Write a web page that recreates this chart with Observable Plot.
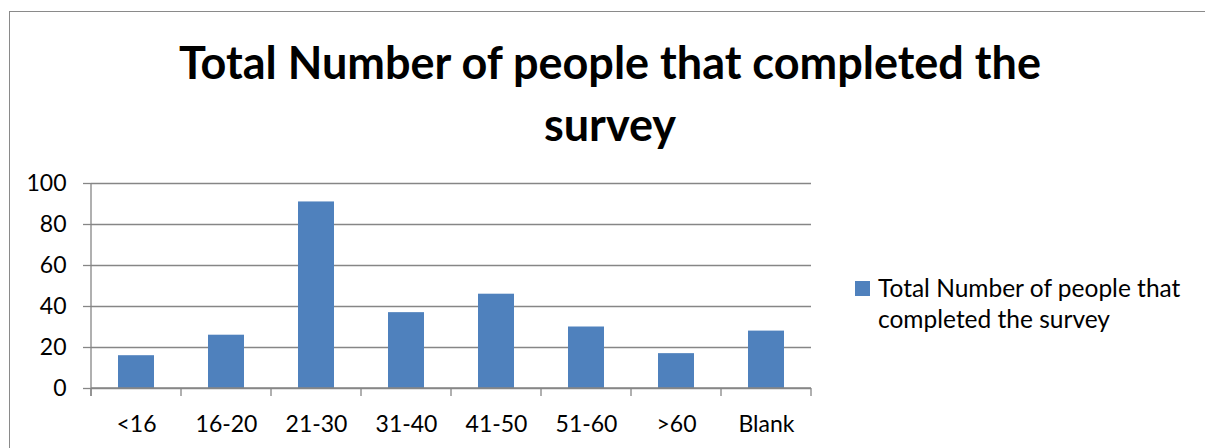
<!DOCTYPE html>
<html>
<head>
<meta charset="utf-8">
<script src="https://cdn.jsdelivr.net/npm/d3@7"></script>
<script src="https://cdn.jsdelivr.net/npm/@observablehq/plot@0.6"></script>
<style>
  html, body { margin: 0; padding: 0; background: #fff; overflow: hidden; }
  body { width: 1205px; height: 448px; position: relative; font-family: Lato, "Open Sans", sans-serif; }
  #frame { position: absolute; left: 9px; top: 11px; width: 1300px; height: 600px; border: 1.5px solid #8a8a8a; box-sizing: border-box; }
  #title { position: absolute; left: 9px; top: 31px; width: 1202px; text-align: center; font-weight: 700; font-size: 45px; line-height: 62px; color: #000; }
  #chart { position: absolute; left: 0; top: 160px; }
  #legend { position: absolute; left: 855px; top: 272px; font-size: 24.5px; line-height: 31px; color: #000; }
  #legend .sw { position: absolute; left: 0; top: 9px; width: 15px; height: 15px; background: #4F81BD; }
  #legend .txt { position: absolute; left: 23px; top: 0; white-space: nowrap; }
</style>
</head>
<body>
<div id="frame"></div>
<div id="title">Total Number of people that completed the<br>survey</div>
<div id="chart"></div>
<div id="legend"><div class="sw"></div><div class="txt">Total Number of people that<br>completed the survey</div></div>
<script>
const categories = ["<16", "16-20", "21-30", "31-40", "41-50", "51-60", ">60", "Blank"];
const counts = [16, 26, 91, 37, 46, 30, 17, 28];
const yTicks = [0, 20, 40, 60, 80, 100];

const barColor = "#4F81BD";
const gridColor = "#868686";

const data = categories.map((c, i) => ({category: c, count: counts[i]}));

function categoryTicks(index, scales, values, dimensions) {
  const x = scales.x, y = scales.y;
  const step = x(categories[1]) - x(categories[0]);
  const gap = step - x.bandwidth();
  const bounds = categories.map(c => x(c) - gap / 2);
  bounds.push(x(categories[categories.length - 1]) + x.bandwidth() + gap / 2);
  const y0 = y(0), yTop = y(100);
  const g = d3.create("svg:g").attr("stroke", gridColor).attr("stroke-width", 1.3).attr("fill", "none");
  g.append("line").attr("x1", bounds[0]).attr("x2", bounds[0]).attr("y1", yTop).attr("y2", y0 + 8);
  g.append("line").attr("x1", bounds[0]).attr("x2", bounds[bounds.length - 1]).attr("y1", y0).attr("y2", y0);
  for (const b of bounds) {
    g.append("line").attr("x1", b).attr("x2", b).attr("y1", y0).attr("y2", y0 + 8);
  }
  return g.node();
}

const chart = Plot.plot({
  width: 830,
  height: 288,
  marginLeft: 91,
  marginRight: 19,
  marginTop: 23,
  marginBottom: 60,
  style: {fontFamily: "Lato, 'Open Sans', sans-serif", fontSize: "23px", color: "#000", background: "transparent", overflow: "visible"},
  x: {domain: categories, paddingInner: 0.6, paddingOuter: 0.3},
  y: {domain: [0, 100]},
  marks: [
    Plot.gridY(yTicks, {stroke: gridColor, strokeOpacity: 1, strokeWidth: 1.3}),
    Plot.barY(data, {x: "category", y: "count", fill: barColor}),
    categoryTicks,
    Plot.axisY(yTicks, {tickSize: 8, tickPadding: 17, stroke: gridColor, strokeWidth: 1.3, fontSize: 23, label: null}),
    Plot.axisX({tickSize: 0, tickPadding: 27, fontSize: 23, label: null})
  ]
});
document.getElementById("chart").appendChild(chart);
</script>
</body>
</html>
